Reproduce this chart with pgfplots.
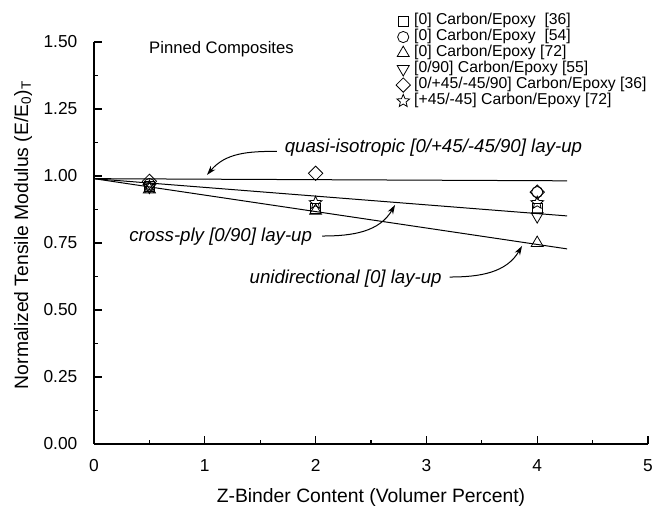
\documentclass[border=0pt]{standalone}
\usepackage{fontspec}
\setmainfont{Liberation Sans}
\usepackage{pgfplots}
\pgfplotsset{compat=1.18}
\usetikzlibrary{arrows.meta}
\pgfdeclareplotmark{ostar}{%
  \pgfpathmoveto{\pgfpointpolar{90}{\pgfplotmarksize}}%
  \pgfpathlineto{\pgfpointpolar{126}{0.45\pgfplotmarksize}}%
  \pgfpathlineto{\pgfpointpolar{162}{\pgfplotmarksize}}%
  \pgfpathlineto{\pgfpointpolar{198}{0.45\pgfplotmarksize}}%
  \pgfpathlineto{\pgfpointpolar{234}{\pgfplotmarksize}}%
  \pgfpathlineto{\pgfpointpolar{270}{0.45\pgfplotmarksize}}%
  \pgfpathlineto{\pgfpointpolar{306}{\pgfplotmarksize}}%
  \pgfpathlineto{\pgfpointpolar{342}{0.45\pgfplotmarksize}}%
  \pgfpathlineto{\pgfpointpolar{18}{\pgfplotmarksize}}%
  \pgfpathlineto{\pgfpointpolar{54}{0.45\pgfplotmarksize}}%
  \pgfpathclose\pgfusepathqstroke}
\begin{document}
\begin{tikzpicture}
\begin{axis}[
  name=ax, at={(0,0)}, anchor=south west,
  scale only axis, width=415.5pt, height=301.5pt,
  xmin=0, xmax=5, ymin=0, ymax=1.5,
  axis x line*=bottom, axis y line*=left,
  axis line style={-, line width=0.9pt},
  every inner x axis line/.append style={-},
  every inner y axis line/.append style={-},
  every outer x axis line/.append style={-},
  every outer y axis line/.append style={-},
  xtick={0,1,2,3,4,5}, minor x tick num=1,
  ytick={0,0.25,0.5,0.75,1,1.25,1.5}, minor y tick num=1,
  tick align=inside, major tick length=6pt, minor tick length=3pt,
  tick style={line width=0.9pt, black},
  /pgf/number format/assume math mode=true,
  yticklabel style={/pgf/number format/.cd, fixed, fixed zerofill, precision=2, /tikz/.cd,
    font=\fontsize{13}{15}\selectfont, xshift=-9pt},
  xticklabel style={font=\fontsize{13}{15}\selectfont, yshift=-8pt},
  xlabel={Z-Binder Content (Volumer Percent)},
  xlabel style={at={(axis description cs:0.5,-0.132)}, anchor=center, font=\fontsize{14.5}{17}\selectfont},
  ylabel={Normalized Tensile Modulus (E/E\textsubscript{0})\textsubscript{T}},
  ylabel style={at={(axis description cs:-0.128,0.52)}, anchor=center, font=\fontsize{14.5}{17}\selectfont},
  legend cell align=left,
  legend style={at={(axis description cs:0.544,1.071)}, anchor=north west, draw=none, fill=none,
    inner sep=0pt, row sep=1pt, font=\fontsize{11.8}{13}\selectfont,
    nodes={inner xsep=2pt, inner ysep=0pt, text height=8.4pt, text depth=2.6pt}},
  legend image code/.code={\path[draw=none, fill=none] (0cm,0cm) -- (0.42cm,0cm);
    \draw[#1] plot coordinates {(0.2cm,0cm)};},
  clip=false,
]
% fitted lines
\addplot[black, line width=0.75pt, forget plot] coordinates {(0,0.99) (4.27,0.982)};
\addplot[black, line width=0.75pt, forget plot] coordinates {(0,0.99) (4.27,0.851)};
\addplot[black, line width=0.75pt, forget plot] coordinates {(0,0.99) (4.27,0.728)};
% data
\addplot[only marks, mark=square, mark size=3.8pt, mark options={draw=black, fill=none, line width=0.6pt}]
  coordinates {(0.5,0.96) (2,0.88) (4,0.88)};
\addlegendentry{\relax[0] Carbon/Epoxy\ \ [36]}
\addplot[only marks, mark=o, mark size=4.2pt, mark options={draw=black, fill=none, line width=0.6pt}]
  coordinates {(0.5,0.97) (4,0.94)};
\addlegendentry{\relax[0] Carbon/Epoxy\ \ [54]}
\addplot[only marks, mark=triangle, mark size=5.2pt, mark options={draw=black, fill=none, line width=0.6pt}]
  coordinates {(0.5,0.95) (2,0.87) (4,0.75)};
\addlegendentry{\relax[0] Carbon/Epoxy [72]}
\addplot[only marks, mark=triangle, mark size=5.2pt, mark options={rotate=180, draw=black, fill=none, line width=0.6pt}]
  coordinates {(0.5,0.96) (4,0.85)};
\addlegendentry{\relax[0/90] Carbon/Epoxy [55]}
\addplot[only marks, mark=square, mark size=3.8pt, mark options={rotate=45, draw=black, fill=none, line width=0.6pt}]
  coordinates {(0.5,0.98) (2,1.01) (4,0.94)};
\addlegendentry{\relax[0/+45/-45/90] Carbon/Epoxy [36]}
\addplot[only marks, mark=ostar, mark size=5pt, mark options={draw=black, fill=none, line width=0.6pt}]
  coordinates {(0.5,0.96) (2,0.90) (4,0.90)};
\addlegendentry{\relax[+45/-45] Carbon/Epoxy [72]}
% annotations
\node[anchor=west, inner sep=0pt, font=\fontsize{12.5}{15}\selectfont] at (axis cs:0.496,1.474) {Pinned Composites};
\node[anchor=west, inner sep=0pt, font=\fontsize{14}{16}\selectfont\itshape] at (axis cs:1.72,1.104) {quasi-isotropic [0/+45/-45/90] lay-up};
\node[anchor=east, inner sep=0pt, font=\fontsize{14}{16}\selectfont\itshape] at (axis cs:1.97,0.772) {cross-ply [0/90] lay-up};
\node[anchor=east, inner sep=0pt, font=\fontsize{14}{16}\selectfont\itshape] at (axis cs:3.14,0.616) {unidirectional [0] lay-up};
\draw[line width=0.75pt, -{Stealth[length=7pt,width=4.5pt]}] (axis cs:1.65,1.092) to[out=180,in=50] (axis cs:1.02,1.004);
\draw[line width=0.75pt, -{Stealth[length=7pt,width=4.5pt]}] (axis cs:2.06,0.776) to[out=0,in=240] (axis cs:2.717,0.892);
\draw[line width=0.75pt, -{Stealth[length=7pt,width=4.5pt]}] (axis cs:3.21,0.623) to[out=0,in=240] (axis cs:3.863,0.739);
\end{axis}
\pgfresetboundingbox
\path (-70.5pt,-54pt) rectangle (420pt,333pt);
\end{tikzpicture}
\end{document}
